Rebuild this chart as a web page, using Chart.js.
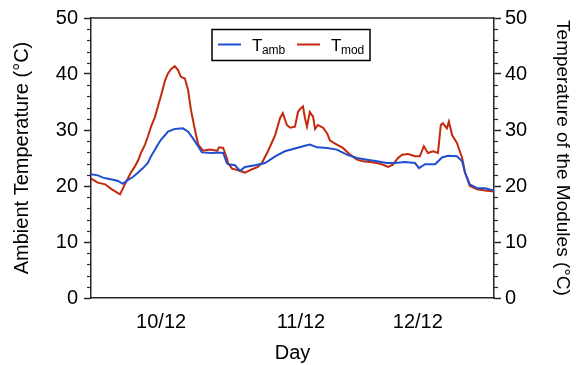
<!DOCTYPE html>
<html><head><meta charset="utf-8">
<script src="https://cdn.jsdelivr.net/npm/chart.js@4.4.0/dist/chart.umd.min.js"></script>
<style>html,body{margin:0;padding:0;background:#fff;} #wrap{width:583px;height:365px;position:relative;}</style>
</head><body><div id="wrap"><canvas id="c" width="583" height="365"></canvas></div>
<script>
// ---- data ----
const dayTickPositions = [17.4, 52.1, 81.1];
const dayTickLabels = ['10/12', '11/12', '12/12'];
const seriesNames = [['T', 'amb'], ['T', 'mod']];
const yMin = 0, yMax = 50, yMajorStep = 10, yMinorStep = 2;

const tAmbTime = [0, 1.7, 3.0, 4.2, 5.5, 6.7, 7.9, 9.2, 10.4, 11.7, 12.9, 14.1, 14.9, 15.9, 16.6, 17.4, 18.4, 19.1, 20.8, 22.8, 24.1, 25.3, 26.6, 27.5, 30.0, 31.5, 32.8, 33.7, 34.0, 35.7, 37.0, 38.2, 40.7, 43.2, 45.7, 48.1, 50.6, 53.1, 54.3, 56.1, 58.6, 61.0, 63.5, 66.0, 68.5, 71.0, 73.4, 75.4, 77.9, 80.4, 81.4, 82.9, 85.4, 87.1, 88.6, 90.8, 92.1, 92.8, 94.0, 95.8, 97.8, 100];
const tAmbValues = [22.1, 21.9, 21.5, 21.3, 21.1, 20.9, 20.4, 21.1, 21.6, 22.4, 23.2, 24.1, 25.3, 26.5, 27.4, 28.3, 29.1, 29.7, 30.2, 30.3, 29.7, 28.5, 27.1, 26.0, 25.9, 26.0, 25.9, 24.1, 23.9, 23.7, 22.7, 23.4, 23.7, 24.1, 25.3, 26.2, 26.7, 27.2, 27.4, 26.9, 26.8, 26.5, 25.6, 25.0, 24.7, 24.4, 24.1, 24.1, 24.3, 24.1, 23.2, 23.9, 23.9, 25.1, 25.4, 25.3, 24.4, 22.4, 20.3, 19.6, 19.6, 19.2];

const tModTime = [0, 1.7, 3.5, 5.0, 7.2, 8.4, 9.9, 10.9, 11.7, 12.4, 13.4, 14.1, 14.9, 15.9, 16.6, 17.4, 18.4, 19.1, 19.9, 20.8, 21.6, 22.3, 23.3, 24.1, 24.8, 25.8, 26.6, 27.8, 29.5, 31.3, 31.8, 32.8, 33.7, 34.0, 35.0, 36.5, 38.2, 40.0, 41.4, 42.4, 43.9, 45.7, 46.9, 47.6, 48.6, 49.4, 50.6, 51.4, 52.1, 52.6, 53.1, 53.6, 54.3, 55.1, 55.6, 56.3, 57.6, 58.6, 59.3, 61.0, 62.5, 64.3, 66.0, 67.5, 69.2, 71.0, 72.5, 73.7, 74.9, 76.2, 77.2, 78.7, 80.4, 81.6, 82.6, 83.6, 84.9, 86.1, 86.8, 87.3, 88.3, 88.8, 89.6, 90.8, 92.1, 92.8, 94.0, 95.8, 97.8, 100];
const tModValues = [21.3, 20.6, 20.3, 19.5, 18.5, 20.3, 22.4, 23.5, 24.6, 25.9, 27.4, 28.8, 30.6, 32.4, 34.2, 36.2, 38.9, 40.1, 40.9, 41.4, 40.7, 39.5, 39.2, 37.1, 33.6, 30.0, 27.4, 26.3, 26.5, 26.3, 26.9, 26.8, 25.0, 24.1, 23.1, 22.8, 22.4, 23.0, 23.4, 24.1, 26.2, 29.1, 32.1, 33.0, 30.9, 30.4, 30.6, 33.3, 33.9, 34.2, 32.1, 30.6, 33.2, 32.4, 30.2, 30.9, 30.4, 29.4, 28.1, 27.4, 26.8, 25.6, 24.7, 24.4, 24.3, 24.1, 23.8, 23.4, 23.8, 25.0, 25.6, 25.7, 25.3, 25.3, 27.1, 25.9, 26.2, 25.9, 30.9, 31.2, 30.3, 31.5, 29.1, 27.7, 25.0, 22.4, 20.0, 19.4, 19.2, 19.0];

// ---- styles ----
const FONT = "'Liberation Sans', Arial, sans-serif";
const AX = '#262626';
const BLUE = '#1f4fcf';
const RED = '#c4290c';

const toXY = (xs, ys) => xs.map((x, i) => ({x: x, y: ys[i]}));

const framePlugin = {
  id: 'frame',
  afterDraw(chart) {
    const ctx = chart.ctx, a = chart.chartArea;
    const ya = chart.scales.y;
    ctx.save();
    ctx.strokeStyle = AX;
    ctx.lineWidth = 1.2;
    for (let v = yMin; v <= yMax; v += yMinorStep) {
      if (v % yMajorStep === 0) continue;
      const py = Math.round(ya.getPixelForValue(v)) + 0.5;
      ctx.beginPath(); ctx.moveTo(a.left - 4, py); ctx.lineTo(a.left, py); ctx.stroke();
      ctx.beginPath(); ctx.moveTo(a.right, py); ctx.lineTo(a.right + 4, py); ctx.stroke();
    }
    ctx.lineWidth = 1.5;
    ctx.beginPath(); ctx.moveTo(a.left, a.top); ctx.lineTo(a.right, a.top); ctx.stroke();
    // legend
    const bx = a.left + 121, by = a.top + 11.5, bw = 158, bh = 31;
    ctx.fillStyle = '#fff';
    ctx.fillRect(bx, by, bw, bh);
    ctx.strokeStyle = '#000';
    ctx.lineWidth = 1.5;
    ctx.strokeRect(bx, by, bw, bh);
    const entries = [{dx: 6, color: BLUE, name: seriesNames[0]}, {dx: 85, color: RED, name: seriesNames[1]}];
    entries.forEach(e => {
      const ly = by + 15;
      ctx.strokeStyle = e.color; ctx.lineWidth = 2;
      ctx.beginPath(); ctx.moveTo(bx + e.dx, ly); ctx.lineTo(bx + e.dx + 23, ly); ctx.stroke();
      ctx.fillStyle = '#000';
      ctx.textBaseline = 'alphabetic'; ctx.textAlign = 'left';
      ctx.font = '17px ' + FONT;
      const tx = bx + e.dx + 34;
      ctx.fillText(e.name[0], tx, by + 21);
      const w = ctx.measureText(e.name[0]).width;
      ctx.font = '12px ' + FONT;
      ctx.fillText(e.name[1], tx + w - 0.5, by + 24.5);
    });
    ctx.restore();
  }
};

new Chart(document.getElementById('c'), {
  type: 'line',
  data: {
    datasets: [
      {label: 'Tamb', data: toXY(tAmbTime, tAmbValues), borderColor: BLUE, yAxisID: 'y', borderWidth: 2, pointRadius: 0, fill: false},
      {label: 'Tmod', data: toXY(tModTime, tModValues), borderColor: RED, yAxisID: 'y2', borderWidth: 2, pointRadius: 0, fill: false}
    ]
  },
  options: {
    responsive: false,
    animation: false,
    devicePixelRatio: 1,
    layout: {padding: {top: 15, left: 0, right: 0, bottom: 0}},
    plugins: {legend: {display: false}, tooltip: {enabled: false}},
    elements: {line: {tension: 0}},
    scales: {
      x: {
        type: 'linear', min: 0, max: 100, position: 'bottom',
        afterBuildTicks: s => { s.ticks = dayTickPositions.map(v => ({value: v})); },
        ticks: {callback: (v, i) => dayTickLabels[i], font: {family: FONT, size: 20}, color: '#000', padding: 12, maxRotation: 0, autoSkip: false},
        grid: {display: false, drawTicks: false},
        border: {display: true, color: AX, width: 1.5},
        title: {display: true, text: 'Day', font: {family: FONT, size: 20}, color: '#000', padding: {top: 0, bottom: 0}},
        afterFit: s => { s.height = 67; }
      },
      y: {
        position: 'left', min: yMin, max: yMax,
        ticks: {stepSize: yMajorStep, font: {family: FONT, size: 20}, color: '#000', padding: 6},
        grid: {drawOnChartArea: false, drawTicks: true, tickLength: 7, tickColor: AX, tickWidth: 1.5},
        border: {display: true, color: AX, width: 1.5},
        title: {display: true, text: 'Ambient Temperature (°C)', font: {family: FONT, size: 20}, color: '#000', padding: {top: 10, bottom: 0}},
        afterFit: s => { s.width = 91; }
      },
      y2: {
        position: 'right', min: yMin, max: yMax,
        ticks: {stepSize: yMajorStep, font: {family: FONT, size: 20}, color: '#000', padding: 4},
        grid: {drawOnChartArea: false, drawTicks: true, tickLength: 7, tickColor: AX, tickWidth: 1.5},
        border: {display: true, color: AX, width: 1.5},
        title: {display: true, text: 'Temperature of the Modules (°C)', font: {family: FONT, size: 19}, color: '#000', padding: {top: 9, bottom: 0}},
        afterFit: s => { s.width = 89; }
      }
    }
  },
  plugins: [framePlugin]
});
</script>
</body></html>
